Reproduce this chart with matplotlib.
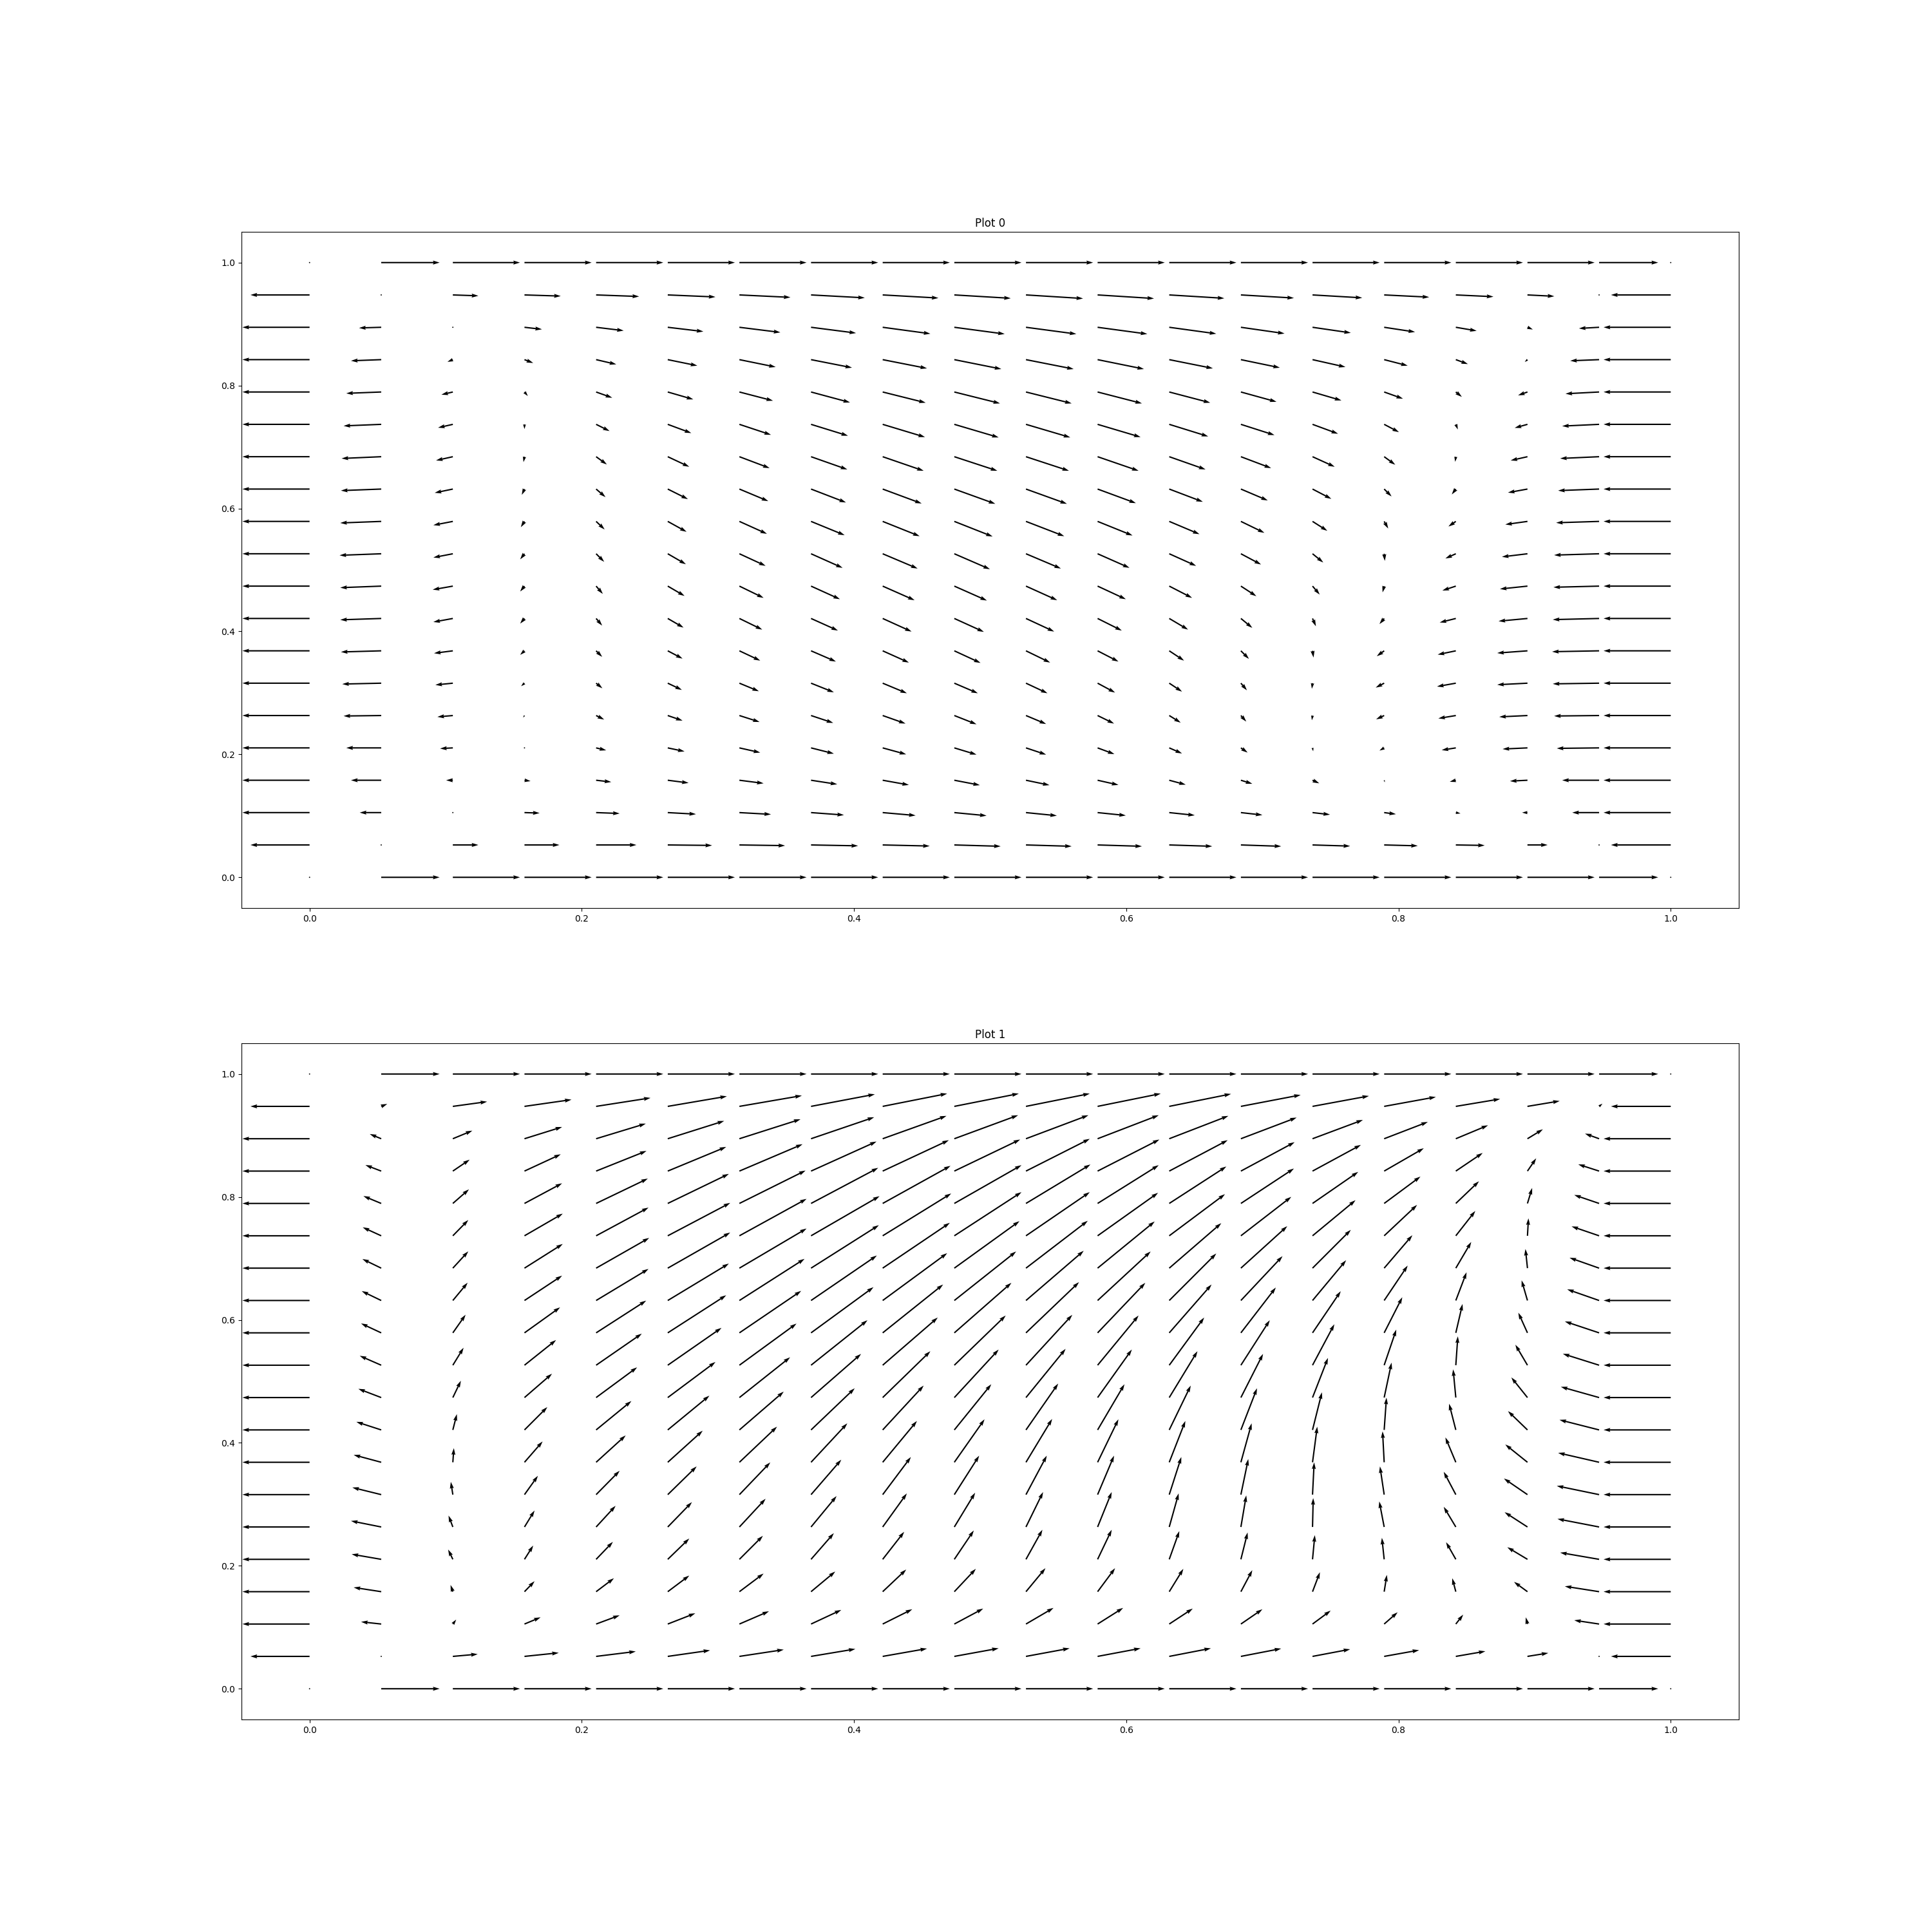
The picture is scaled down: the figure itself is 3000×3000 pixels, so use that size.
import numpy as np
import matplotlib
matplotlib.use("Agg")
import matplotlib.pyplot as plt

# 20 x 20 grid nodes on the unit square
x_nodes = np.linspace(0.0, 1.0, 20)
y_nodes = np.linspace(0.0, 1.0, 20)

titles = ["Plot 0", "Plot 1"]

# rows are listed from the top (y = 1) down to the bottom (y = 0)
lid_u = [0, 0.87, 1, 1, 1, 1, 1, 1, 1, 1, 1, 1, 1, 1, 1, 1, 1, 1, 0.88, 0]
zero_row = [0, 0, 0, 0, 0, 0, 0, 0, 0, 0, 0, 0, 0, 0, 0, 0, 0, 0, 0, 0]

u0_rows = [
    lid_u,
    [-0.88, 0, 0.38, 0.54, 0.64, 0.71, 0.76, 0.80, 0.83, 0.84, 0.85, 0.84, 0.82, 0.79, 0.74, 0.67, 0.56, 0.40, 0, -0.89],
    [-1, -0.33, -0.01, 0.26, 0.41, 0.53, 0.61, 0.67, 0.71, 0.75, 0.75, 0.74, 0.70, 0.65, 0.57, 0.46, 0.31, 0.08, -0.30, -1],
    [-1, -0.45, -0.08, 0.13, 0.30, 0.44, 0.54, 0.61, 0.66, 0.70, 0.71, 0.69, 0.65, 0.58, 0.49, 0.35, 0.18, -0.04, -0.43, -1],
    [-1, -0.52, -0.17, 0.05, 0.24, 0.38, 0.50, 0.58, 0.64, 0.68, 0.68, 0.66, 0.61, 0.53, 0.43, 0.28, 0.09, -0.14, -0.50, -1],
    [-1, -0.56, -0.22, 0.0, 0.20, 0.35, 0.47, 0.55, 0.63, 0.66, 0.66, 0.64, 0.58, 0.50, 0.38, 0.22, 0.03, -0.19, -0.55, -1],
    [-1, -0.59, -0.25, -0.015, 0.16, 0.32, 0.45, 0.54, 0.61, 0.64, 0.64, 0.61, 0.54, 0.45, 0.33, 0.165, -0.01, -0.25, -0.58, -1],
    [-1, -0.60, -0.27, -0.04, 0.14, 0.30, 0.43, 0.52, 0.58, 0.61, 0.61, 0.57, 0.50, 0.40, 0.28, 0.11, -0.06, -0.29, -0.61, -1],
    [-1, -0.61, -0.29, -0.054, 0.127, 0.28, 0.41, 0.50, 0.55, 0.57, 0.57, 0.52, 0.45, 0.35, 0.22, 0.06, -0.11, -0.33, -0.64, -1],
    [-1, -0.62, -0.29, -0.064, 0.12, 0.27, 0.39, 0.47, 0.52, 0.53, 0.52, 0.475, 0.40, 0.30, 0.16, 0.01, -0.155, -0.38, -0.67, -1],
    [-1, -0.61, -0.30, -0.064, 0.10, 0.25, 0.36, 0.43, 0.475, 0.485, 0.465, 0.42, 0.34, 0.23, 0.107, -0.024, -0.20, -0.41, -0.68, -1],
    [-1, -0.61, -0.29, -0.064, 0.09, 0.235, 0.34, 0.40, 0.43, 0.44, 0.42, 0.36, 0.28, 0.17, 0.05, -0.07, -0.24, -0.43, -0.69, -1],
    [-1, -0.60, -0.28, -0.064, 0.09, 0.22, 0.31, 0.37, 0.39, 0.39, 0.36, 0.31, 0.22, 0.12, 0.015, -0.11, -0.27, -0.45, -0.70, -1],
    [-1, -0.58, -0.26, -0.05, 0.093, 0.21, 0.29, 0.34, 0.36, 0.35, 0.32, 0.26, 0.19, 0.09, -0.01, -0.126, -0.28, -0.45, -0.69, -1],
    [-1, -0.56, -0.23, -0.02, 0.12, 0.22, 0.30, 0.33, 0.34, 0.33, 0.30, 0.245, 0.17, 0.08, -0.01, -0.12, -0.26, -0.42, -0.67, -1],
    [-1, -0.52, -0.19, 0.0, 0.15, 0.25, 0.31, 0.34, 0.35, 0.33, 0.30, 0.25, 0.19, 0.10, 0.01, -0.07, -0.21, -0.37, -0.63, -1],
    [-1, -0.45, -0.10, 0.09, 0.225, 0.31, 0.36, 0.39, 0.39, 0.38, 0.35, 0.31, 0.245, 0.17, 0.10, 0.01, -0.09, -0.26, -0.55, -1],
    [-1, -0.32, 0.01, 0.225, 0.35, 0.42, 0.47, 0.49, 0.49, 0.48, 0.46, 0.42, 0.38, 0.32, 0.26, 0.175, 0.07, -0.08, -0.40, -1],
    [-0.88, 0, 0.38, 0.52, 0.60, 0.66, 0.68, 0.70, 0.70, 0.69, 0.68, 0.66, 0.64, 0.60, 0.56, 0.50, 0.43, 0.30, 0, -0.89],
    lid_u,
]

v0_rows = [
    zero_row,
    [0, 0, -0.013, -0.017, -0.023, -0.03, -0.036, -0.043, -0.046, -0.05, -0.053, -0.053, -0.05, -0.046, -0.043, -0.033, -0.026, -0.02, 0, 0],
    [0, -0.01, 0.01, -0.03, -0.05, -0.063, -0.076, -0.086, -0.096, -0.10, -0.10, -0.10, -0.096, -0.093, -0.083, -0.07, -0.053, -0.033, -0.017, 0],
    [0, -0.017, -0.033, -0.05, -0.07, -0.09, -0.11, -0.12, -0.13, -0.14, -0.14, -0.14, -0.13, -0.12, -0.11, -0.09, -0.066, -0.035, -0.017, 0],
    [0, -0.02, -0.04, -0.06, -0.086, -0.11, -0.13, -0.156, -0.16, -0.17, -0.17, -0.17, -0.16, -0.146, -0.126, -0.10, -0.073, -0.05, -0.026, 0],
    [0, -0.023, -0.05, -0.07, -0.10, -0.13, -0.156, -0.17, -0.19, -0.195, -0.195, -0.19, -0.18, -0.16, -0.14, -0.116, -0.076, -0.053, -0.026, 0],
    [0, -0.026, -0.056, -0.08, -0.116, -0.15, -0.17, -0.19, -0.21, -0.21, -0.21, -0.21, -0.19, -0.17, -0.15, -0.12, -0.076, -0.056, -0.026, 0],
    [0, -0.023, -0.056, -0.086, -0.12, -0.15, -0.18, -0.20, -0.215, -0.22, -0.22, -0.21, -0.19, -0.17, -0.146, -0.11, -0.08, -0.053, -0.023, 0],
    [0, -0.023, -0.056, -0.086, -0.12, -0.155, -0.185, -0.205, -0.22, -0.225, -0.22, -0.21, -0.19, -0.17, -0.14, -0.106, -0.076, -0.046, -0.02, 0],
    [0, -0.023, -0.056, -0.083, -0.12, -0.156, -0.18, -0.21, -0.22, -0.23, -0.22, -0.21, -0.18, -0.16, -0.13, -0.106, -0.07, -0.046, -0.02, 0],
    [0, -0.023, -0.053, -0.08, -0.116, -0.146, -0.175, -0.195, -0.21, -0.215, -0.21, -0.195, -0.175, -0.15, -0.126, -0.093, -0.066, -0.043, -0.017, 0],
    [0, -0.02, -0.053, -0.076, -0.106, -0.136, -0.166, -0.18, -0.195, -0.20, -0.195, -0.18, -0.166, -0.14, -0.116, -0.083, -0.06, -0.04, -0.017, 0],
    [0, -0.017, -0.036, -0.06, -0.09, -0.116, -0.146, -0.16, -0.175, -0.18, -0.175, -0.16, -0.146, -0.12, -0.10, -0.08, -0.056, -0.033, -0.013, 0],
    [0, -0.013, -0.026, -0.045, -0.076, -0.10, -0.12, -0.136, -0.15, -0.15, -0.15, -0.14, -0.126, -0.106, -0.083, -0.066, -0.05, -0.023, -0.01, 0],
    [0, -0.007, -0.02, -0.03, -0.06, -0.076, -0.096, -0.11, -0.12, -0.13, -0.126, -0.12, -0.106, -0.09, -0.07, -0.056, -0.043, -0.02, -0.007, 0],
    [0, 0, -0.01, -0.01, -0.036, -0.053, -0.07, -0.086, -0.096, -0.10, -0.10, -0.093, -0.083, -0.07, -0.05, -0.04, -0.033, -0.017, -0.007, 0],
    [0, 0, 0, -0.013, -0.026, -0.04, -0.046, -0.06, -0.07, -0.073, -0.073, -0.07, -0.066, -0.053, -0.046, -0.03, -0.023, -0.013, 0, 0],
    [0, 0, 0, -0.007, -0.013, -0.023, -0.026, -0.036, -0.043, -0.046, -0.046, -0.043, -0.04, -0.036, -0.03, -0.023, -0.013, 0, 0, 0],
    [0, 0, 0, 0, 0, -0.007, -0.01, -0.013, -0.016, -0.02, -0.02, -0.02, -0.02, -0.02, -0.017, -0.013, -0.007, 0, 0, 0],
    zero_row,
]

u1_rows = [
    lid_u,
    [-0.88, 0.09, 0.51, 0.70, 0.81, 0.88, 0.93, 0.95, 0.96, 0.96, 0.95, 0.94, 0.92, 0.89, 0.84, 0.77, 0.66, 0.48, 0.05, -0.89],
    [-1, -0.17, 0.29, 0.56, 0.74, 0.84, 0.91, 0.94, 0.95, 0.95, 0.93, 0.91, 0.88, 0.83, 0.75, 0.65, 0.48, 0.23, -0.21, -1],
    [-1, -0.235, 0.25, 0.54, 0.75, 0.87, 0.94, 0.975, 0.985, 0.98, 0.95, 0.92, 0.87, 0.80, 0.72, 0.59, 0.40, 0.13, -0.31, -1],
    [-1, -0.265, 0.24, 0.56, 0.77, 0.91, 0.985, 1.0, 1.01, 1.0, 0.96, 0.91, 0.85, 0.79, 0.68, 0.54, 0.345, 0.07, -0.37, -1],
    [-1, -0.275, 0.23, 0.57, 0.78, 0.93, 1.0, 1.02, 1.02, 1.0, 0.95, 0.90, 0.83, 0.75, 0.64, 0.49, 0.29, 0.015, -0.41, -1],
    [-1, -0.28, 0.23, 0.57, 0.79, 0.93, 1.0, 1.01, 1.0, 0.97, 0.92, 0.85, 0.775, 0.69, 0.57, 0.42, 0.23, -0.03, -0.44, -1],
    [-1, -0.29, 0.22, 0.56, 0.78, 0.91, 0.97, 0.98, 0.96, 0.92, 0.86, 0.79, 0.70, 0.62, 0.50, 0.35, 0.16, -0.087, -0.475, -1],
    [-1, -0.30, 0.19, 0.53, 0.745, 0.87, 0.92, 0.93, 0.90, 0.85, 0.79, 0.71, 0.63, 0.52, 0.42, 0.27, 0.10, -0.136, -0.51, -1],
    [-1, -0.32, 0.16, 0.47, 0.68, 0.80, 0.85, 0.84, 0.82, 0.765, 0.69, 0.61, 0.52, 0.43, 0.325, 0.18, 0.03, -0.18, -0.54, -1],
    [-1, -0.34, 0.12, 0.41, 0.61, 0.71, 0.755, 0.745, 0.71, 0.66, 0.59, 0.51, 0.42, 0.33, 0.23, 0.11, -0.04, -0.24, -0.57, -1],
    [-1, -0.37, 0.06, 0.34, 0.525, 0.62, 0.66, 0.65, 0.61, 0.55, 0.48, 0.40, 0.32, 0.24, 0.14, 0.034, -0.10, -0.29, -0.59, -1],
    [-1, -0.41, 0.015, 0.27, 0.44, 0.52, 0.56, 0.54, 0.51, 0.45, 0.39, 0.31, 0.24, 0.16, 0.07, -0.024, -0.155, -0.33, -0.61, -1],
    [-1, -0.43, -0.03, 0.20, 0.35, 0.43, 0.46, 0.45, 0.42, 0.37, 0.31, 0.245, 0.18, 0.11, 0.024, -0.063, -0.18, -0.35, -0.63, -1],
    [-1, -0.45, -0.064, 0.15, 0.29, 0.36, 0.39, 0.38, 0.36, 0.31, 0.255, 0.21, 0.14, 0.08, 0.01, -0.073, -0.18, -0.34, -0.62, -1],
    [-1, -0.44, -0.07, 0.13, 0.25, 0.32, 0.35, 0.34, 0.32, 0.29, 0.245, 0.21, 0.15, 0.10, 0.034, -0.034, -0.145, -0.30, -0.58, -1],
    [-1, -0.41, -0.034, 0.15, 0.265, 0.32, 0.36, 0.36, 0.35, 0.32, 0.29, 0.26, 0.21, 0.17, 0.11, 0.04, -0.053, -0.20, -0.51, -1],
    [-1, -0.30, 0.05, 0.24, 0.35, 0.41, 0.44, 0.45, 0.44, 0.43, 0.41, 0.38, 0.35, 0.32, 0.27, 0.20, 0.11, -0.025, -0.37, -1],
    [-0.88, 0, 0.37, 0.51, 0.59, 0.63, 0.66, 0.66, 0.66, 0.66, 0.65, 0.64, 0.62, 0.60, 0.56, 0.52, 0.44, 0.31, 0, -0.89],
    lid_u,
]

v1_rows = [
    zero_row,
    [0, 0.036, 0.07, 0.10, 0.126, 0.15, 0.16, 0.18, 0.19, 0.19, 0.19, 0.19, 0.185, 0.17, 0.155, 0.14, 0.11, 0.08, 0.04, 0],
    [0, 0.07, 0.12, 0.175, 0.225, 0.265, 0.29, 0.32, 0.34, 0.35, 0.35, 0.35, 0.34, 0.315, 0.28, 0.25, 0.20, 0.14, 0.076, 0],
    [0, 0.09, 0.17, 0.25, 0.30, 0.36, 0.40, 0.44, 0.46, 0.47, 0.48, 0.47, 0.46, 0.43, 0.39, 0.34, 0.27, 0.19, 0.10, 0],
    [0, 0.11, 0.21, 0.30, 0.37, 0.44, 0.49, 0.53, 0.56, 0.57, 0.58, 0.57, 0.55, 0.52, 0.47, 0.40, 0.33, 0.23, 0.126, 0],
    [0, 0.126, 0.235, 0.33, 0.42, 0.49, 0.55, 0.59, 0.63, 0.65, 0.65, 0.64, 0.62, 0.58, 0.53, 0.46, 0.37, 0.26, 0.14, 0],
    [0, 0.136, 0.25, 0.36, 0.45, 0.53, 0.59, 0.64, 0.675, 0.70, 0.705, 0.695, 0.67, 0.625, 0.57, 0.49, 0.39, 0.285, 0.155, 0],
    [0, 0.14, 0.265, 0.37, 0.47, 0.55, 0.62, 0.67, 0.705, 0.73, 0.74, 0.73, 0.70, 0.66, 0.60, 0.52, 0.42, 0.30, 0.166, 0],
    [0, 0.14, 0.27, 0.38, 0.48, 0.56, 0.625, 0.68, 0.72, 0.745, 0.755, 0.745, 0.72, 0.675, 0.62, 0.53, 0.43, 0.30, 0.17, 0],
    [0, 0.14, 0.26, 0.375, 0.47, 0.556, 0.62, 0.67, 0.71, 0.74, 0.75, 0.74, 0.71, 0.67, 0.61, 0.53, 0.43, 0.305, 0.17, 0],
    [0, 0.13, 0.25, 0.355, 0.45, 0.53, 0.60, 0.65, 0.69, 0.715, 0.725, 0.715, 0.69, 0.65, 0.59, 0.52, 0.42, 0.30, 0.16, 0],
    [0, 0.12, 0.235, 0.34, 0.43, 0.51, 0.57, 0.62, 0.66, 0.68, 0.69, 0.68, 0.66, 0.62, 0.56, 0.48, 0.39, 0.28, 0.15, 0],
    [0, 0.11, 0.21, 0.31, 0.40, 0.47, 0.53, 0.58, 0.615, 0.64, 0.645, 0.64, 0.615, 0.58, 0.53, 0.46, 0.37, 0.265, 0.14, 0],
    [0, 0.106, 0.19, 0.28, 0.355, 0.42, 0.48, 0.52, 0.56, 0.58, 0.58, 0.58, 0.56, 0.53, 0.48, 0.42, 0.34, 0.24, 0.13, 0],
    [0, 0.09, 0.17, 0.245, 0.315, 0.37, 0.42, 0.46, 0.50, 0.51, 0.52, 0.52, 0.50, 0.47, 0.43, 0.38, 0.30, 0.22, 0.12, 0],
    [0, 0.076, 0.146, 0.205, 0.26, 0.31, 0.35, 0.39, 0.41, 0.43, 0.44, 0.44, 0.42, 0.40, 0.36, 0.32, 0.255, 0.18, 0.10, 0],
    [0, 0.063, 0.10, 0.156, 0.20, 0.24, 0.27, 0.30, 0.33, 0.34, 0.35, 0.35, 0.34, 0.32, 0.29, 0.25, 0.20, 0.146, 0.08, 0],
    [0, 0.033, 0.066, 0.10, 0.13, 0.16, 0.19, 0.21, 0.22, 0.23, 0.24, 0.24, 0.23, 0.22, 0.20, 0.175, 0.14, 0.10, 0.056, 0],
    [0, 0, 0.033, 0.053, 0.073, 0.09, 0.10, 0.11, 0.116, 0.12, 0.12, 0.12, 0.12, 0.116, 0.106, 0.093, 0.076, 0.05, 0, 0],
    zero_row,
]

fields = [(u0_rows, v0_rows), (u1_rows, v1_rows)]

X, Y = np.meshgrid(x_nodes, y_nodes)

fig, axes = plt.subplots(2, 1, figsize=(30, 30), dpi=100)

for ax, title, (u_rows, v_rows) in zip(axes, titles, fields):
    # flip so that row 0 is y = 0
    U = np.array(u_rows, dtype=float)[::-1]
    V = np.array(v_rows, dtype=float)[::-1]
    ax.quiver(X, Y, U, V, color="black", scale=22.3, scale_units="width",
              width=0.0009)
    ax.set_xlim(-0.05, 1.05)
    ax.set_ylim(-0.05, 1.05)
    ax.set_title(title)

fig.savefig("out.png", dpi=100)
